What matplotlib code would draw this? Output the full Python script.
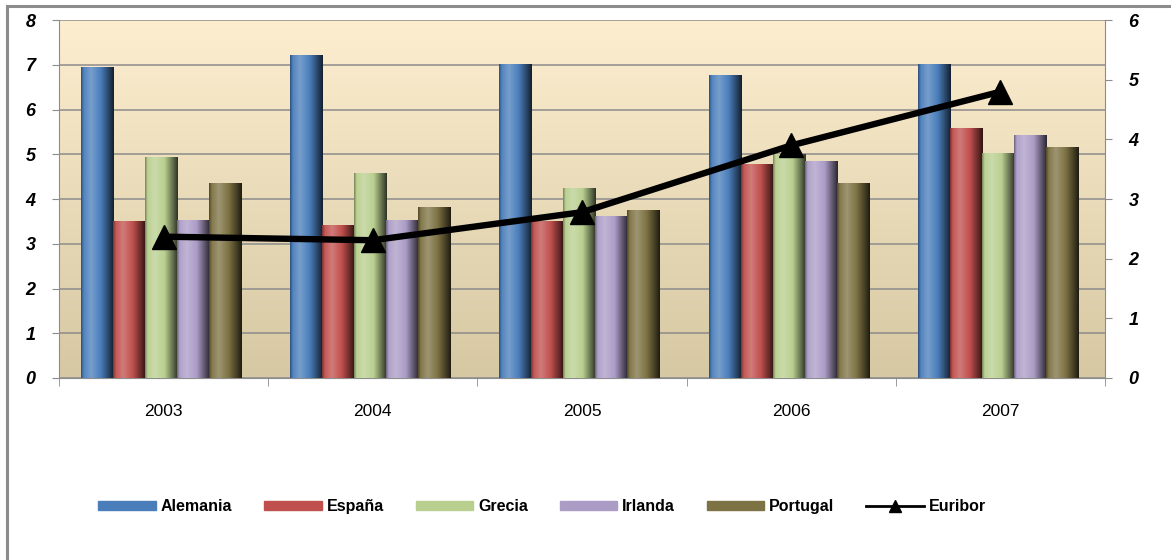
import numpy as np
import matplotlib
matplotlib.use("Agg")
import matplotlib.pyplot as plt
from matplotlib.colors import to_rgb
from matplotlib.patches import Patch
from matplotlib.lines import Line2D

plt.rcParams['font.family'] = ['Liberation Sans', 'DejaVu Sans']

years = ['2003', '2004', '2005', '2006', '2007']
countries = ['Alemania', 'España', 'Grecia', 'Irlanda', 'Portugal']
alemania = [6.95, 7.22, 7.0, 6.76, 7.01]
espana = [3.5, 3.4, 3.49, 4.78, 5.58]
grecia = [4.92, 4.58, 4.24, 5.0, 5.03]
irlanda = [3.53, 3.53, 3.62, 4.85, 5.43]
portugal = [4.35, 3.82, 3.74, 4.35, 5.15]
euribor = [2.37, 2.31, 2.78, 3.9, 4.8]

series = [alemania, espana, grecia, irlanda, portugal]
colors = ['#4a7ebb', '#c0504d', '#b9cf8f', '#ab9cc6', '#7d7243']

fig = plt.figure(figsize=(11.71, 5.6), dpi=100)
ax = fig.add_axes([0.0504, 0.325, 0.8932, 0.639])

# plot area background gradient (cream top -> tan bottom)
top = np.array(to_rgb('#fdeed0'))
bot = np.array(to_rgb('#d6c8a2'))
tt = np.linspace(0, 1, 256)[:, None]
bg = top[None, :] * (1 - tt) + bot[None, :] * tt
ax.imshow(bg[:, None, :].repeat(2, axis=1), extent=[0, 1, 0, 1],
          transform=ax.transAxes, aspect='auto', zorder=0)


def shade(c, w=64):
    # fake bevel: light strip left of centre, dark at right edge
    c = np.array(to_rgb(c))
    s = np.linspace(0, 1, w)
    f = np.interp(s, [0, 0.08, 0.3, 0.6, 0.9, 1], [-0.35, 0.05, 0.25, 0.0, -0.55, -0.75])
    img = np.zeros((1, w, 3))
    for k, v in enumerate(f):
        if v >= 0:
            img[0, k] = c + (1 - c) * v
        else:
            img[0, k] = c * (1 + v)
    return img


x = np.arange(len(years))
bw = 0.153
for j, vals in enumerate(series):
    pos = x + (j - 2) * bw - 0.012
    bars = ax.bar(pos, vals, width=bw, color=colors[j], zorder=2)
    img = shade(colors[j])
    for b in bars:
        x0, y0 = b.get_x(), b.get_y()
        ax.imshow(img, extent=[x0, x0 + b.get_width(), y0, y0 + b.get_height()],
                  aspect='auto', zorder=3, interpolation='bilinear')

ax.set_xlim(-0.5, 4.5)
ax.set_ylim(0, 8)
ax.set_yticks(range(9))
ax.yaxis.grid(True, color='#8c8c8c', linewidth=1.1, zorder=1)
ax.set_axisbelow(False)
for gl in ax.get_ygridlines():
    gl.set_zorder(1)
ax.set_xticks(x)
ax.set_xticklabels(years, fontsize=12.5)
ax.set_xticks(np.arange(-0.5, 5, 1), minor=True)
ax.tick_params(axis='x', which='major', length=0, pad=19)
ax.tick_params(axis='x', which='minor', length=6, color='#8c8c8c', direction='out')
ax.tick_params(axis='y', length=5, color='#8c8c8c', pad=12)
for lb in ax.get_yticklabels():
    lb.set_fontweight('bold')
    lb.set_fontstyle('italic')
    lb.set_fontsize(13)
for sp in ['top', 'right']:
    ax.spines[sp].set_visible(False)
for sp in ['left', 'bottom']:
    ax.spines[sp].set_color('#8c8c8c')

ax2 = ax.twinx()
ax2.set_ylim(0, 6)
ax2.set_yticks(range(7))
ax2.plot(x, euribor, color='black', linewidth=4.6, marker='^', markersize=17, zorder=5)
ax2.tick_params(axis='y', length=5, color='#8c8c8c', pad=12)
for lb in ax2.get_yticklabels():
    lb.set_fontweight('bold')
    lb.set_fontstyle('italic')
    lb.set_fontsize(13)
for sp in ['top', 'left', 'bottom']:
    ax2.spines[sp].set_visible(False)
ax2.spines['right'].set_color('#8c8c8c')

handles = [Patch(facecolor=colors[j], edgecolor=colors[j]) for j in range(5)]
handles.append(Line2D([0], [0], color='black', linewidth=2, marker='^', markersize=8))
fig.legend(handles, countries + ['Euribor'], loc='center', ncol=6,
           bbox_to_anchor=(0.463, 0.096), frameon=False, handlelength=3.6,
           handleheight=0.5, columnspacing=2.0, handletextpad=0.3,
           prop={'weight': 'bold', 'size': 11.5})

# outer chart frame (only top and left edges visible in the crop)
fig.add_artist(Line2D([0.006, 1.0], [0.989, 0.989], color='#8c8c8c', linewidth=2.2))
fig.add_artist(Line2D([0.006, 0.006], [0.0, 0.989], color='#8c8c8c', linewidth=2.2))

fig.savefig('out.png', dpi=100)
